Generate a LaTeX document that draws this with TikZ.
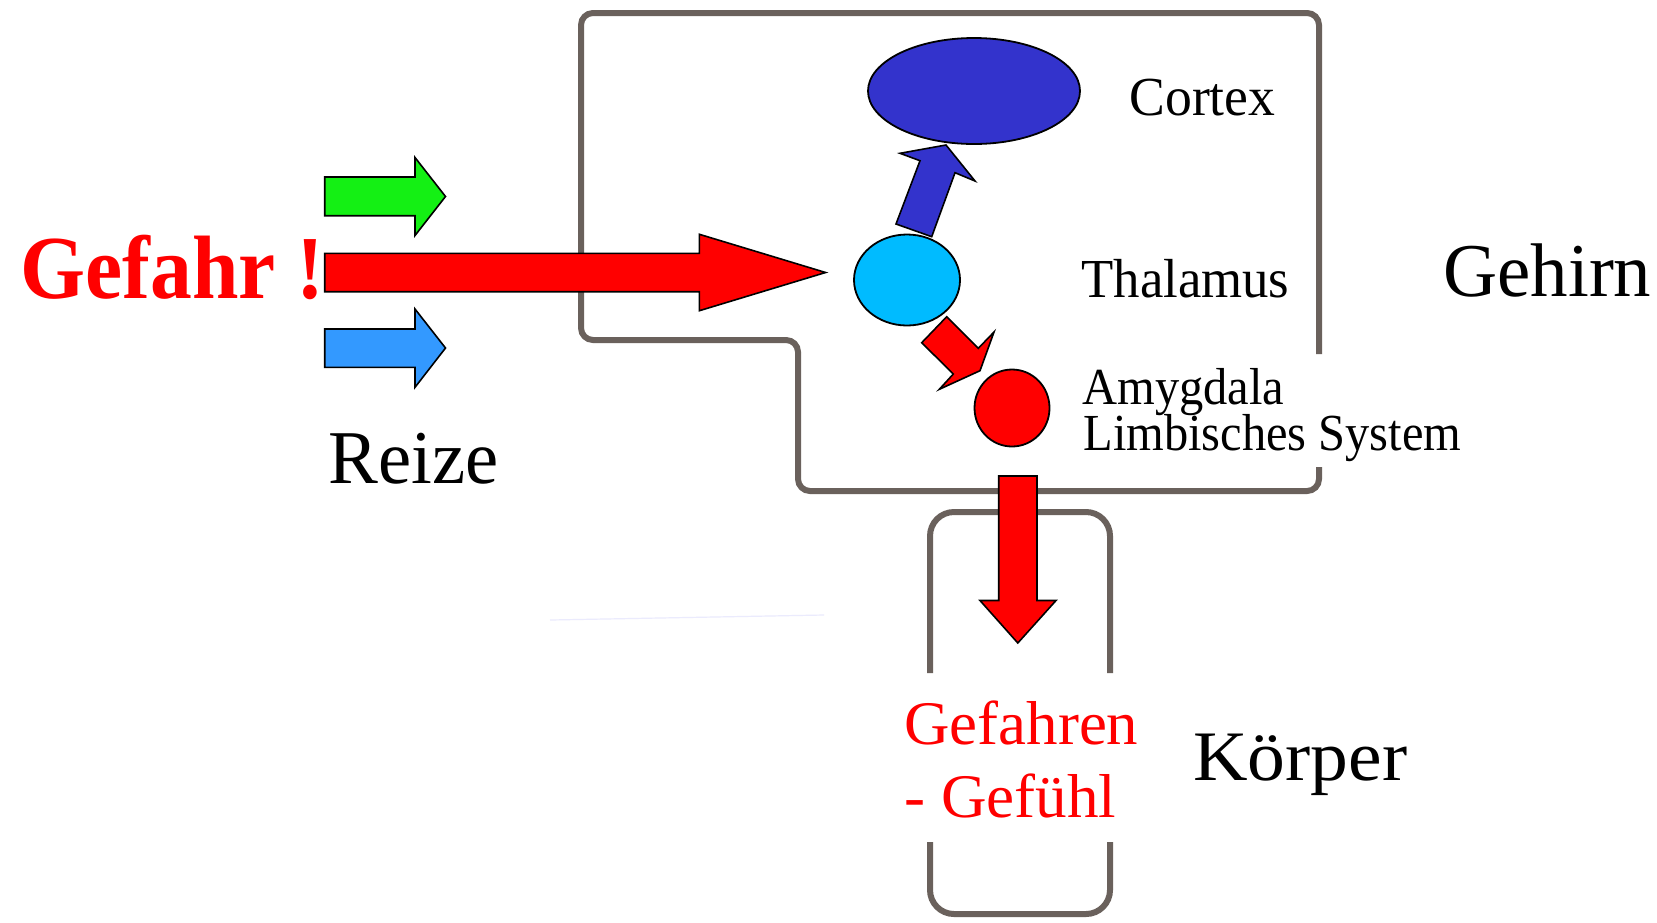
\documentclass[tikz,border=0pt]{standalone}
\usepackage{fontspec}
\setmainfont{Liberation Serif}
\usepackage{graphicx}
\usetikzlibrary{shapes.geometric}
\definecolor{outl}{HTML}{6A615C}
\definecolor{myred}{RGB}{255,0,0}
\definecolor{mygreen}{RGB}{20,240,20}
\definecolor{mylblue}{HTML}{3399FF}
\definecolor{mydblue}{HTML}{3333CC}
\definecolor{mycyan}{HTML}{00BBFF}
\newcommand\fitw[2]{\resizebox{#1}{\height}{#2}}
\tikzset{
  outline/.style={draw=outl, line width=3pt, rounded corners=6pt},
  blockarrow/.style={draw=black, line width=0.8pt, line join=miter},
  organ/.style={ellipse, draw=black, line width=0.9pt, inner sep=0pt},
  lbl/.style={inner sep=0pt, anchor=base west},
}
\begin{document}
\begin{tikzpicture}[x=0.5pt,y=-0.5pt]
\useasboundingbox[fill=white] (0,0) rectangle (1657,922);

% faint scan edge
\draw[color=black!10!blue!8, line width=0.6pt] (550,620) -- (824,615);

% brain outline (with gap at the right edge)
\draw[outline] (1319,467) -- (1319,491) -- (798,491) -- (798,340) -- (581,340)
  -- (581,13) -- (1319,13) -- (1319,354);

% body outline (with gaps on the sides)
\draw[outline, rounded corners=12pt] (930,673) -- (930,512) -- (1110,512) -- (1110,673);
\draw[outline, rounded corners=12pt] (930,842) -- (930,914) -- (1110,914) -- (1110,842);

% organs
\node[organ, fill=mydblue, minimum width=106pt, minimum height=53pt] (cortex) at (974,91) {};
\node[organ, fill=mycyan, minimum width=53pt, minimum height=45.5pt] (thal) at (907,280) {};
\node[organ, fill=myred, minimum width=37.5pt, minimum height=38.5pt] (amyg) at (1012,408) {};

% small stimulus arrows
\filldraw[blockarrow, fill=mygreen] (324.7,177) -- (415,177) -- (415,157.5) -- (445.5,196.5)
  -- (415,235.5) -- (415,215.7) -- (324.7,215.7) -- cycle;
\filldraw[blockarrow, fill=mylblue] (324.7,329) -- (415,329) -- (415,309) -- (445.5,348)
  -- (415,387.3) -- (415,367.3) -- (324.7,367.3) -- cycle;

% big danger arrow
\filldraw[blockarrow, fill=myred] (324.7,253.3) -- (699.4,253.3) -- (699.4,234.3) -- (825.6,272.5)
  -- (699.4,310.7) -- (699.4,291.7) -- (324.7,291.7) -- cycle;

% thalamus -> cortex
\filldraw[blockarrow, fill=mydblue] (896,224) -- (920,160.7) -- (900,153.3) -- (946,145)
  -- (975,181) -- (955,172.7) -- (931.7,236.7) -- cycle;

% thalamus -> amygdala
\filldraw[blockarrow, fill=myred] (946.7,316.7) -- (978.3,348.3) -- (994,332) -- (980,370.7)
  -- (939.3,389.3) -- (953.3,374) -- (921.7,342.7) -- cycle;

% amygdala -> body
\filldraw[blockarrow, fill=myred] (998.7,476) -- (1037,476) -- (1037,600.5) -- (1056,600.5)
  -- (1017.8,643) -- (980,600.5) -- (998.7,600.5) -- cycle;

% labels
\node[lbl, text=myred, font=\fontsize{45}{50}\selectfont\bfseries] (gefahr) at (20,298) {\fitw{152pt}{Gefahr !}};
\node[lbl, font=\fontsize{38}{42}\selectfont] (reize) at (328,483) {\fitw{85pt}{Reize}};
\node[lbl, font=\fontsize{27.5}{30}\selectfont] (ctxl) at (1129,115.5) {\fitw{73pt}{Cortex}};
\node[lbl, font=\fontsize{27.5}{30}\selectfont] (thall) at (1081,297.3) {\fitw{104pt}{Thalamus}};
\node[lbl, font=\fontsize{38}{42}\selectfont] (gehirn) at (1443,296.7) {\fitw{104pt}{Gehirn}};
\node[lbl, font=\fontsize{26}{28}\selectfont] (amyl1) at (1082,404) {\fitw{101pt}{Amygdala}};
\node[lbl, font=\fontsize{26}{28}\selectfont] (amyl2) at (1083,450) {\fitw{189pt}{Limbisches System}};
\node[lbl, text=myred, font=\fontsize{31}{34}\selectfont] (gef1) at (904,744) {\fitw{117pt}{Gefahren}};
\node[lbl, text=myred, font=\fontsize{31}{34}\selectfont] (gef2) at (904,817.7) {\fitw{106pt}{- Gefühl}};
\node[lbl, font=\fontsize{35.5}{38}\selectfont] (koerper) at (1193,780) {\fitw{107pt}{Körper}};
\end{tikzpicture}
\end{document}
